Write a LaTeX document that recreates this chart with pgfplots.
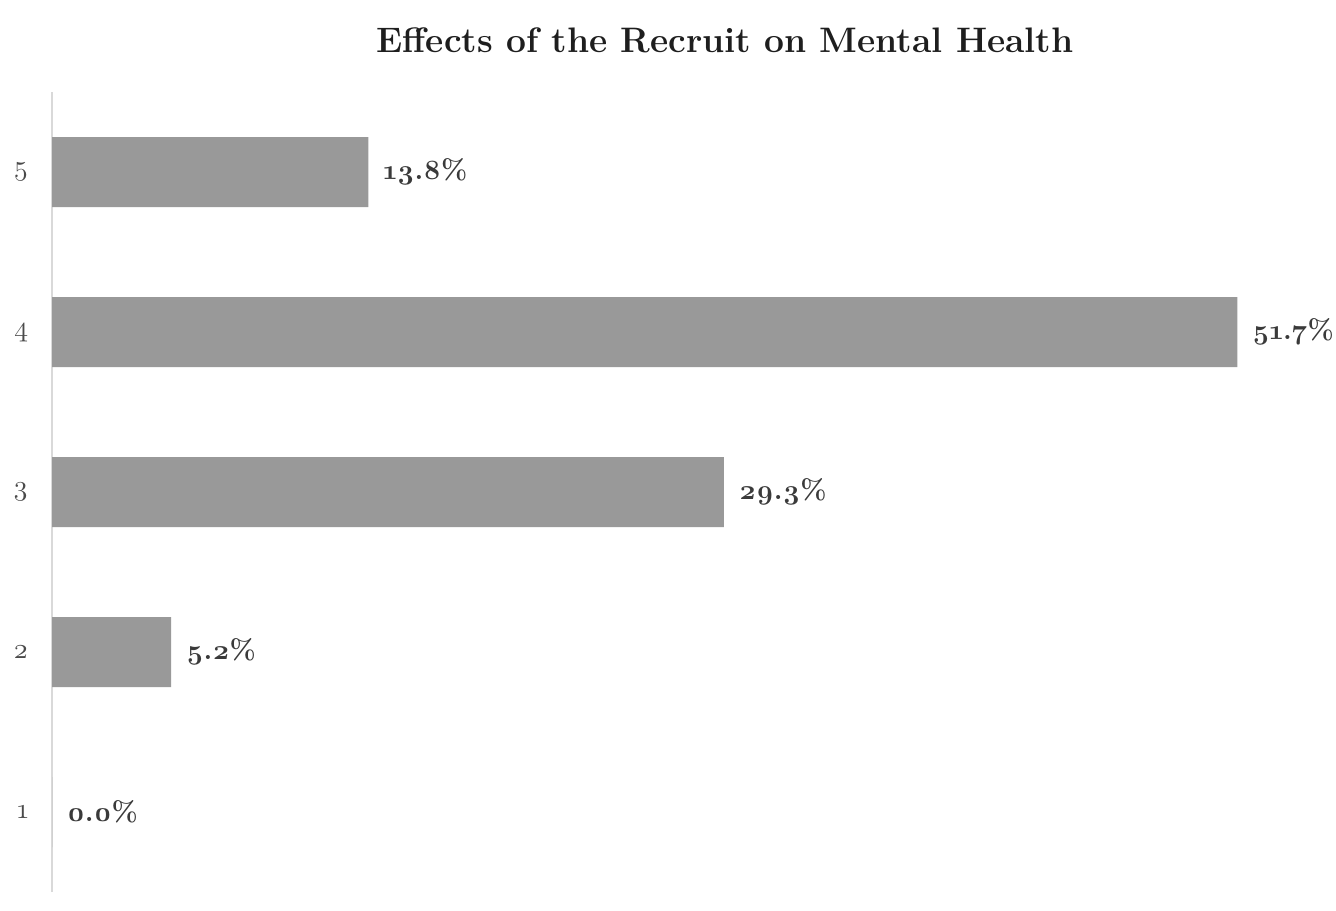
\documentclass[border=0pt]{standalone}
\usepackage{pgfplots}
\pgfplotsset{compat=1.18}
\usepackage{fontspec}
\setmainfont{Latin Modern Roman}[Numbers=OldStyle]
\definecolor{barcol}{HTML}{999999}
\definecolor{labcol}{HTML}{3A3A3A}
\definecolor{tickcol}{HTML}{4A4A4A}
\definecolor{axcol}{HTML}{D9D9D9}
\definecolor{titcol}{HTML}{1E1E1E}
\begin{document}
\begin{tikzpicture}
\useasboundingbox (0,0) rectangle (668pt,-455pt);
\node[font=\bfseries\fontsize{17.7}{20}\selectfont, text=titcol] at (362.5pt,-20pt) {Effects of the Recruit on Mental Health};
\begin{axis}[
  at={(26pt,-446pt)}, anchor=south west,
  scale only axis, width=630.5pt, height=400pt,
  xbar, bar width=35pt,
  xmin=0, xmax=55, ymin=0.5, ymax=5.5,
  axis x line=none,
  axis y line*=left,
  y axis line style={-, draw=axcol, line width=0.8pt},
  ytick={1,2,3,4,5},
  yticklabels={1,2,3,4,5},
  ytick style={draw=none},
  yticklabel style={font=\fontsize{14}{16}\selectfont, text=tickcol, xshift=-4pt},
  clip=false,
  nodes near coords={\pgfmathprintnumber[assume math mode=true,fixed,fixed zerofill,precision=1]{\pgfplotspointmeta}\%},
  every node near coord/.append style={font=\bfseries\fontsize{14}{16}\selectfont, text=labcol, anchor=west, xshift=4pt},
]
\addplot[fill=barcol, draw=none] coordinates {(0,1) (5.2,2) (29.3,3) (51.7,4) (13.8,5)};
\end{axis}
\end{tikzpicture}
\end{document}
